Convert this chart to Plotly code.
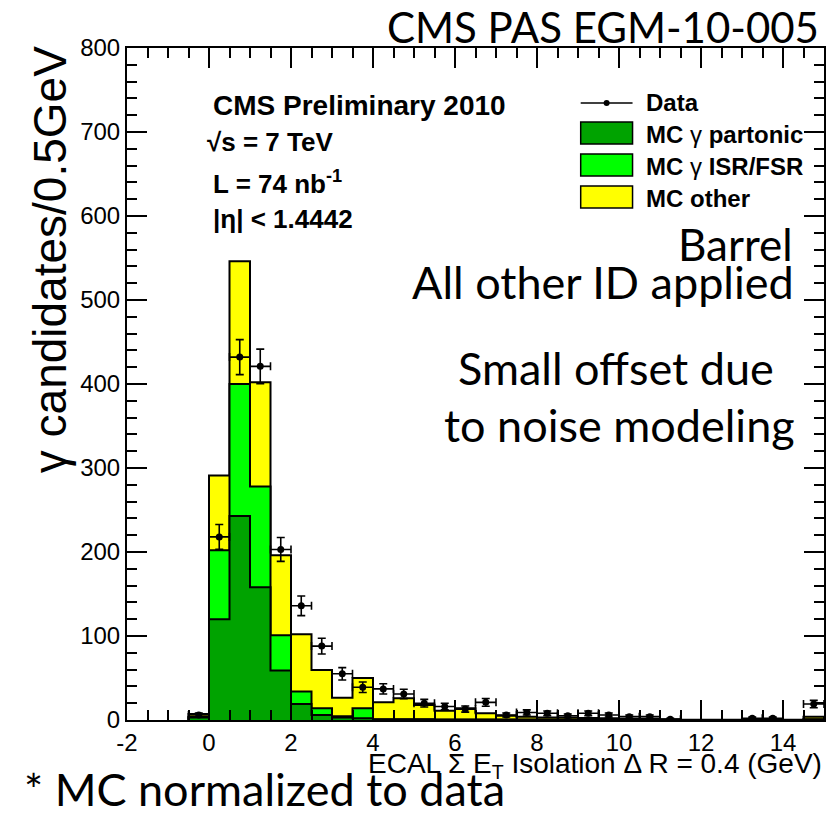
import numpy as np
import plotly.graph_objects as go

# ---------------- data ----------------
bin_width = 0.5
bin_low_edges = [-0.5, 0.0, 0.5, 1.0, 1.5, 2.0, 2.5, 3.0, 3.5, 4.0, 4.5, 5.0, 5.5, 6.0, 6.5,
                 7.0, 7.5, 8.0, 8.5, 9.0, 9.5, 10.0, 10.5, 11.0, 11.5, 12.0, 12.5, 13.0, 13.5,
                 14.0, 14.5]
mc_partonic = [3, 120, 243, 158, 59, 19, 6, 3, 2, 0.5, 0.5, 0.5, 0.3, 0.3, 0.3,
               0.3, 0.3, 0.3, 0.3, 0.3, 0.5, 0.3, 0.3, 0.1, 0, 0, 0, 0, 0, 0, 0.5]
mc_isr_fsr = [0.5, 82, 157, 120, 42, 15, 8, 1.5, 12, 0.5, 0.5, 0.5, 0.3, 0.3, 0.3,
              0.3, 0.3, 0.3, 0.3, 0.3, 0.5, 0.3, 0.3, 0.1, 0, 0, 0, 0, 0, 0, 0.5]
mc_other = [3.5, 89, 146, 124, 95, 68, 45.5, 22, 36, 20, 25, 17, 10.4, 13.4, 7.4,
            4.4, 3.4, 2.4, 2.4, 1.9, 1, 0.9, 0.9, 0.3, 0.2, 0.2, 0.2, 0.3, 0.3, 0.2, 3]
data_counts = [6, 218, 432, 421, 203, 136, 88, 55, 39, 37, 31, 20, 16, 13, 21,
               6, 9, 8, 5, 8, 6, 4, 4, 1, 0, 0, 0, 2, 2, 0, 19]
data_errors = [2.4, 14.8, 20.8, 20.5, 14.2, 11.7, 9.4, 7.4, 6.2, 6.1, 5.6, 4.5, 4.0, 3.6, 4.6,
               2.4, 3.0, 2.8, 2.2, 2.8, 2.4, 2.0, 2.0, 1.0, 0, 0, 0, 1.4, 1.4, 0, 4.4]

x_tick_vals = [-2, 0, 2, 4, 6, 8, 10, 12, 14]
y_tick_vals = [0, 100, 200, 300, 400, 500, 600, 700, 800]

# ---------------- geometry helpers ----------------
W, H = 829, 815
L, R, T, B = 127, 826, 48, 720


def px(xp):
    return (xp - L) / (R - L)


def py(yp):
    return (B - yp) / (B - T)


edges = np.array(bin_low_edges + [bin_low_edges[-1] + bin_width])
centers = np.array(bin_low_edges) + bin_width / 2

part = np.array(mc_partonic, dtype=float)
isr = np.array(mc_isr_fsr, dtype=float)
oth = np.array(mc_other, dtype=float)

stack_total = part + isr + oth
stack_gamma = part + isr
stack_part = part


def step_xy(vals):
    xs = [edges[0]] + list(edges[:-1]) + [edges[-1]]
    ys = [0] + list(vals) + [0]
    return xs, ys


fig = go.Figure()

for vals, col, name in [(stack_total, "#ffff00", "MC other"),
                        (stack_gamma, "#00ff00", "MC γ ISR/FSR"),
                        (stack_part, "#00a300", "MC γ partonic")]:
    xs, ys = step_xy(vals)
    fig.add_trace(go.Scatter(x=xs, y=ys, mode="lines", line=dict(shape="hv", color="black", width=2),
                             fill="tozeroy", fillcolor=col, name=name, showlegend=False,
                             hoverinfo="skip"))

dc = np.array(data_counts, dtype=float)
de = np.array(data_errors, dtype=float)
mask = dc > 0
fig.add_trace(go.Scatter(
    x=centers[mask], y=dc[mask], mode="markers",
    marker=dict(color="black", size=7),
    error_y=dict(type="data", array=de[mask], color="black", thickness=1.6, width=4),
    error_x=dict(type="constant", value=bin_width / 2, color="black", thickness=1.6, width=4),
    name="Data", showlegend=False))

tickfont = dict(family="Liberation Sans, Arial, sans-serif", size=24, color="black")

fig.update_xaxes(range=[-2, 15], tickmode="array", tickvals=x_tick_vals,
                 ticktext=[str(v) for v in x_tick_vals],
                 ticks="inside", ticklen=20, tickwidth=2, tickcolor="black",
                 minor=dict(dtick=0.5, tick0=0, ticks="inside", ticklen=10, tickwidth=2, tickcolor="black"),
                 showline=True, linewidth=2, linecolor="black", mirror="allticks",
                 showgrid=False, zeroline=False, tickfont=tickfont)
fig.update_yaxes(range=[0, 800], tickmode="array", tickvals=y_tick_vals,
                 ticktext=[str(v) for v in y_tick_vals],
                 ticks="inside", ticklen=20, tickwidth=2, tickcolor="black",
                 minor=dict(dtick=20, tick0=0, ticks="inside", ticklen=10, tickwidth=2, tickcolor="black"),
                 showline=True, linewidth=2, linecolor="black", mirror="allticks",
                 showgrid=False, zeroline=False, tickfont=tickfont)

ann = []
helv = "Liberation Sans, Arial, sans-serif"
narrow = "Liberation Sans Narrow, Arial Narrow, Liberation Sans, Arial, sans-serif"
gill = "Lato, Open Sans, sans-serif"


def text(xp, yp, t, size, family, xanchor="left", yanchor="middle", color="black"):
    ann.append(dict(x=px(xp), y=py(yp), xref="paper", yref="paper", text=t, showarrow=False,
                    xanchor=xanchor, yanchor=yanchor,
                    font=dict(family=family, size=size, color=color)))


# header
text(823, 27, "CMS PAS EGM-10-005", 42, gill, xanchor="right")

# CMS box
text(211, 105, "<b>CMS Preliminary 2010</b>", 28, helv)
text(205, 142, "<b>√s = 7 TeV</b>", 26, helv)
text(211, 183, "<b>L = 74 nb<sup>-1</sup></b>", 26, helv)
text(211, 219, "<b>|η| < 1.4442</b>", 26, helv)

# legend
leg_x0, leg_x1 = 582, 634
rows = [(133, "#00a300", "<b>MC</b> γ <b>partonic</b>"),
        (165, "#00ff00", "<b>MC</b> γ <b>ISR/FSR</b>"),
        (197, "#ffff00", "<b>MC other</b>")]
shapes = []
for yc, col, lab in rows:
    shapes.append(dict(type="rect", xref="paper", yref="paper", x0=px(leg_x0), x1=px(leg_x1),
                       y0=py(yc + 11), y1=py(yc - 11), fillcolor=col, line=dict(color="black", width=1.5)))
    text(645, yc + 1, lab, 24, helv)
shapes.append(dict(type="line", xref="paper", yref="paper", x0=px(leg_x0), x1=px(leg_x1),
                   y0=py(103), y1=py(103), line=dict(color="black", width=1.5)))
shapes.append(dict(type="circle", xref="paper", yref="paper", x0=px(605), x1=px(611),
                   y0=py(106), y1=py(100), fillcolor="black", line=dict(color="black", width=0)))
text(645, 102, "<b>Data</b>", 24, helv)

# right text
text(797, 244, "Barrel", 44, gill, xanchor="right")
text(798, 282, "All other ID applied", 45, gill, xanchor="right")
text(778, 368, "Small offset due", 45, gill, xanchor="right")
text(799, 425, "to noise modeling", 45, gill, xanchor="right")

# axis titles
text(826, 765, "ECAL Σ E<sub>T</sub> Isolation Δ R = 0.4 (GeV)", 28, narrow, xanchor="right")
ann.append(dict(x=px(50), y=py(260), xref="paper", yref="paper", text="γ candidates/0.5GeV",
                showarrow=False, textangle=-90, xanchor="center", yanchor="middle",
                font=dict(family=narrow, size=46, color="black")))

# footnote
text(22, 789, "* MC normalized to data", 45, gill)

fig.update_layout(width=W, height=H, margin=dict(l=L, r=W - R, t=T, b=H - B),
                  plot_bgcolor="white", paper_bgcolor="white", showlegend=False,
                  annotations=ann, shapes=shapes)

fig.write_html("out.html")
